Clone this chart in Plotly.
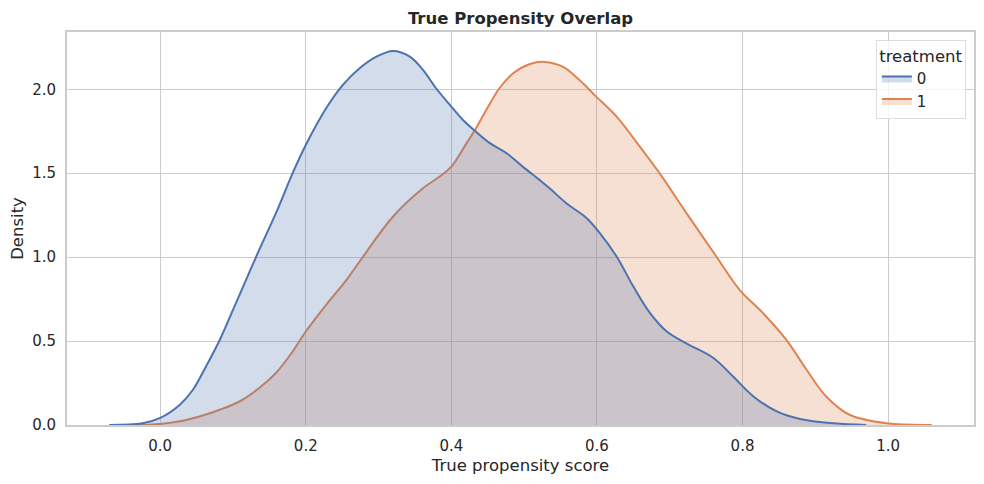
import plotly.graph_objects as go

# Dichtekurven (KDE)
score_0 = [-0.07, -0.024, 0.0, 0.027, 0.045, 0.063, 0.082, 0.10, 0.118, 0.136, 0.159,
           0.182, 0.2, 0.228, 0.251, 0.274, 0.297, 0.32, 0.343, 0.361, 0.379, 0.398,
           0.416, 0.432, 0.453, 0.476, 0.498, 0.521, 0.535, 0.558, 0.586, 0.604, 0.627,
           0.65, 0.673, 0.696, 0.722, 0.76, 0.787, 0.815, 0.847, 0.879, 0.925, 0.97]
dichte_0 = [0, 0.01, 0.042, 0.121, 0.21, 0.349, 0.508, 0.686, 0.865, 1.043, 1.262,
            1.50, 1.668, 1.887, 2.026, 2.125, 2.194, 2.228, 2.194, 2.115, 2.006, 1.907,
            1.817, 1.754, 1.679, 1.619, 1.539, 1.46, 1.41, 1.321, 1.232, 1.143, 1.004,
            0.825, 0.667, 0.557, 0.488, 0.399, 0.289, 0.170, 0.081, 0.036, 0.01, 0]

score_1 = [-0.04, 0.0, 0.027, 0.054, 0.082, 0.109, 0.136, 0.159, 0.182, 0.2, 0.228,
           0.256, 0.274, 0.32, 0.361, 0.384, 0.4, 0.421, 0.432, 0.448, 0.466, 0.485,
           0.508, 0.528, 0.553, 0.576, 0.599, 0.627, 0.659, 0.686, 0.723, 0.764, 0.796,
           0.828, 0.86, 0.888, 0.915, 0.947, 0.998, 1.06]
dichte_1 = [0, 0.006, 0.022, 0.051, 0.091, 0.14, 0.22, 0.31, 0.438, 0.557, 0.716,
            0.865, 0.974, 1.242, 1.41, 1.48, 1.539, 1.679, 1.754, 1.877, 2.006, 2.095,
            2.15, 2.163, 2.135, 2.055, 1.956, 1.837, 1.658, 1.50, 1.262, 1.004, 0.805,
            0.667, 0.508, 0.329, 0.17, 0.061, 0.01, 0]

x_ticks = [0.0, 0.2, 0.4, 0.6, 0.8, 1.0]
y_ticks = [0.0, 0.5, 1.0, 1.5, 2.0]

blau = "#4C72B0"
orange = "#DD8452"
schrift = "DejaVu Sans"
text_farbe = "#262626"

fig = go.Figure()
# orange zuerst, damit die blaue Fläche oben liegt (wie bei seaborn)
fig.add_trace(go.Scatter(x=score_1, y=dichte_1, name="1", mode="lines",
                         line=dict(color=orange, width=2, shape="spline", smoothing=1.0),
                         fill="tozeroy", fillcolor="rgba(221,132,82,0.25)", legendrank=2))
fig.add_trace(go.Scatter(x=score_0, y=dichte_0, name="0", mode="lines",
                         line=dict(color=blau, width=2, shape="spline", smoothing=1.0),
                         fill="tozeroy", fillcolor="rgba(76,114,176,0.25)", legendrank=1))

achse = dict(showgrid=True, gridcolor="#cccccc", gridwidth=1.3, zeroline=False,
             showline=True, linecolor="#cccccc", linewidth=1.7, mirror=True,
             ticks="", tickfont=dict(family=schrift, size=15, color=text_farbe),
             tickformat=".1f", automargin=False)

# die Seite hat 8px Rand im body -> Figur etwas kleiner
fig.update_layout(
    width=976, height=476,
    margin=dict(l=59, r=10, t=24, b=59),
    plot_bgcolor="white", paper_bgcolor="white",
    title=dict(text="<b>True Propensity Overlap</b>", x=(59 + 966) / 2 / 976, xanchor="center",
               y=1 - 10 / 476, yanchor="middle", yref="container",
               font=dict(family=schrift, size=16.5, color=text_farbe)),
    xaxis=dict(achse, range=[-0.128, 1.118], tickvals=x_ticks, ticklabelstandoff=6,
               title=dict(text="True propensity score", standoff=6,
                          font=dict(family=schrift, size=16.5, color=text_farbe))),
    yaxis=dict(achse, range=[0, 2.341], tickvals=y_ticks, ticklabelstandoff=6,
               title=dict(text="Density", standoff=8,
                          font=dict(family=schrift, size=16.5, color=text_farbe))),
    legend=dict(title=dict(text="treatment", side="top center",
                           font=dict(family=schrift, size=16.5, color=text_farbe)),
                font=dict(family=schrift, size=15, color=text_farbe),
                x=0.991, xanchor="right", y=0.98, yanchor="top",
                bgcolor="rgba(255,255,255,0.8)", bordercolor="#dddddd", borderwidth=1),
    showlegend=True,
)

fig.write_html("out.html")
